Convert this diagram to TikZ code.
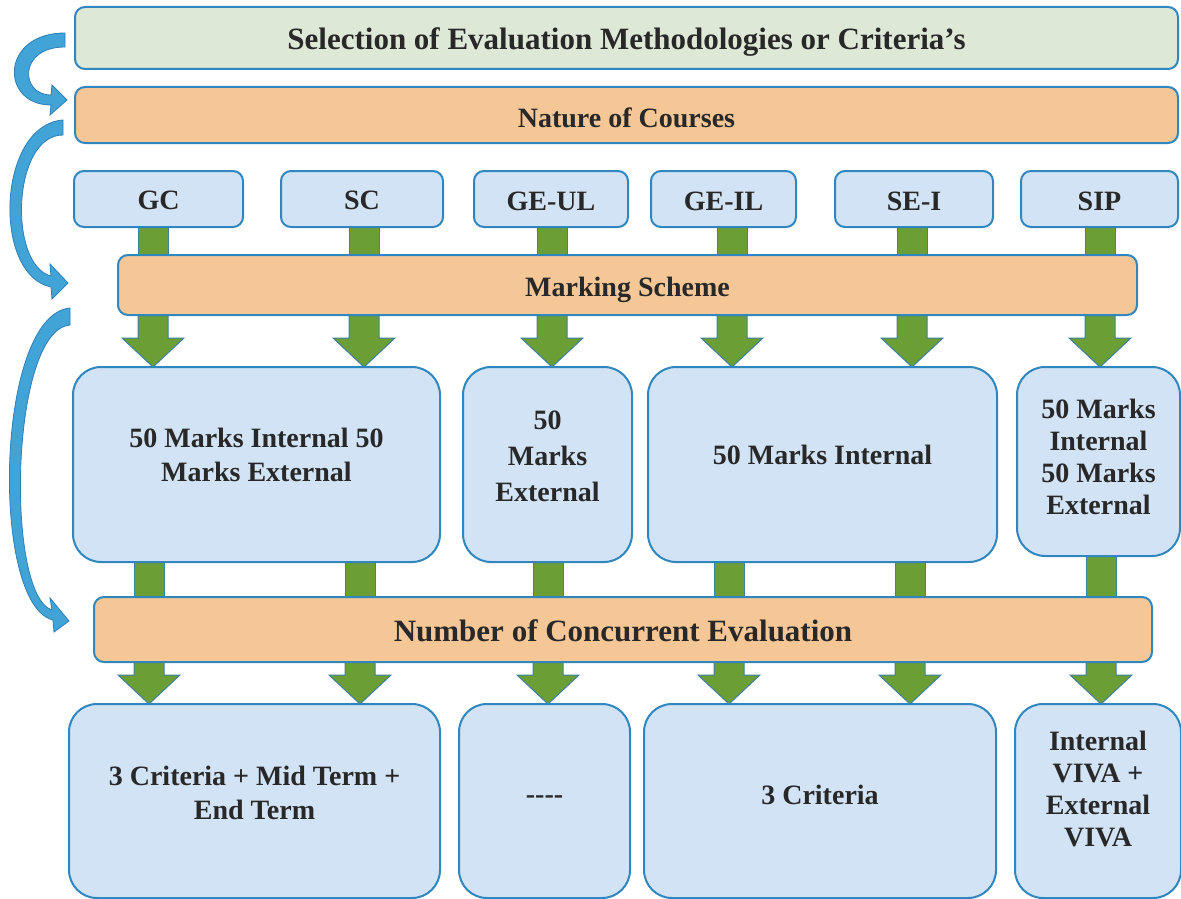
\documentclass[tikz,border=0pt]{standalone}
\usepackage{fontspec}
\setmainfont{Liberation Serif}
\usetikzlibrary{calc}
\pgfdeclarelayer{background}
\pgfsetlayers{background,main}
\definecolor{boxblue}{RGB}{209,227,245}
\definecolor{boxline}{RGB}{48,134,190}
\definecolor{boxorange}{RGB}{246,199,150}
\definecolor{boxsage}{RGB}{222,232,214}
\definecolor{agreen}{RGB}{108,158,54}
\definecolor{agreenline}{RGB}{62,128,160}
\definecolor{cblue}{RGB}{66,163,214}
\definecolor{cblueline}{RGB}{44,127,184}
\definecolor{txt}{RGB}{40,40,40}
\tikzset{
  box/.style={draw=boxline, line width=2pt, inner sep=0pt, outer sep=0pt},
  topbox/.style={box, fill=boxsage, rounded corners=10pt},
  barbox/.style={box, fill=boxorange, rounded corners=10pt},
  smallbox/.style={box, fill=boxblue, rounded corners=10pt},
  bigbox/.style={box, fill=boxblue, rounded corners=28pt},
  lab/.style={text=txt, inner sep=0pt, align=center, anchor=center,
    font=\fontsize{28}{34}\selectfont\bfseries},
  labtight/.style={lab, font=\fontsize{28}{32}\selectfont\bfseries},
  labbig/.style={lab, font=\fontsize{31}{36}\selectfont\bfseries},
  garrowstyle/.style={fill=agreen, draw=agreenline, line width=1pt},
  curvarrow/.style={fill=cblue, draw=cblueline, line width=0.8pt},
}
\newcommand\garrow[2]{%
  \filldraw[garrowstyle] let \p1=#1, \p2=#2 in
    (\x1-15pt,\y1) -- (\x1-15pt,\y2+29pt) -- (\x1-31pt,\y2+29pt) -- (\x1,\y2)
    -- (\x1+31pt,\y2+29pt) -- (\x1+15pt,\y2+29pt) -- (\x1+15pt,\y1) -- cycle;}
\newcommand\gstem[2]{%
  \filldraw[garrowstyle] let \p1=#1, \p2=#2 in
    (\x1-15pt,\y1) rectangle (\x1+15pt,\y2);}
\begin{document}
\begin{tikzpicture}[x=1pt,y=-1pt]
\useasboundingbox (0,0) rectangle (1181,899);
% rows
\node[topbox, minimum width=1103pt, minimum height=62pt,
  label={[labbig, name=selt, yshift=-4pt]center:Selection of Evaluation Methodologies or Criteria's}] (sel) at (626.5,38) {};
\node[barbox, minimum width=1103pt, minimum height=56pt,
  label={[lab, name=noct, yshift=-3pt]center:Nature of Courses}] (noc) at (626.5,115) {};
\node[smallbox, minimum width=169pt, minimum height=56pt,
  label={[lab, name=gct, yshift=-1pt]center:GC}] (gc) at (158.5,199) {};
\node[smallbox, minimum width=162pt, minimum height=56pt,
  label={[lab, name=sct, yshift=-1pt]center:SC}] (sc) at (362,199) {};
\node[smallbox, minimum width=154pt, minimum height=56pt,
  label={[lab, name=geult, yshift=-2pt]center:GE-UL}] (geul) at (551,199) {};
\node[smallbox, minimum width=145pt, minimum height=56pt,
  label={[lab, name=geilt, yshift=-2pt]center:GE-IL}] (geil) at (723.5,199) {};
\node[smallbox, minimum width=158pt, minimum height=56pt,
  label={[lab, name=seit, yshift=-2pt]center:SE-I}] (sei) at (914,199) {};
\node[smallbox, minimum width=157pt, minimum height=56pt,
  label={[lab, name=sipt, yshift=-2pt]center:SIP}] (sip) at (1099.5,199) {};
\node[barbox, minimum width=1019pt, minimum height=60pt,
  label={[lab, name=mst, yshift=-5pt]center:Marking Scheme}] (ms) at (627.5,285) {};
\node[bigbox, minimum width=367pt, minimum height=195pt,
  label={[lab, name=m1t, yshift=10pt]center:{50 Marks Internal 50\\Marks External}}] (m1) at (256.5,464.5) {};
\node[bigbox, minimum width=169pt, minimum height=195pt,
  label={[lab, name=m2t, font=\fontsize{28}{36}\selectfont\bfseries, yshift=8pt]center:{50\\Marks\\External}}] (m2) at (547.5,464.5) {};
\node[bigbox, minimum width=349pt, minimum height=195pt,
  label={[lab, name=m3t, yshift=10pt]center:50 Marks Internal}] (m3) at (822.5,464.5) {};
\node[bigbox, minimum width=163pt, minimum height=189pt,
  label={[labtight, name=m4t, yshift=5pt]center:{50 Marks\\Internal\\50 Marks\\External}}] (m4) at (1098.5,461.5) {};
\node[barbox, minimum width=1058pt, minimum height=65pt,
  label={[labbig, name=ncet, yshift=-1pt]center:Number of Concurrent Evaluation}] (nce) at (623,629.5) {};
\node[bigbox, minimum width=371pt, minimum height=194pt,
  label={[lab, name=b1t, yshift=8pt]center:{3 Criteria + Mid Term +\\End Term}}] (b1) at (254.5,801) {};
\node[bigbox, minimum width=171pt, minimum height=194pt,
  label={[lab, name=b2t, yshift=1pt]center:{-{}-{}-{}-}}] (b2) at (544.5,801) {};
\node[bigbox, minimum width=352pt, minimum height=194pt,
  label={[lab, name=b3t, yshift=6pt]center:3 Criteria}] (b3) at (820,801) {};
\node[bigbox, minimum width=166pt, minimum height=194pt,
  label={[labtight, name=b4t, yshift=12pt]center:{Internal\\VIVA +\\External\\VIVA}}] (b4) at (1098,801) {};
% column positions
\coordinate (ca) at (153,0);
\coordinate (cb) at (364,0);
\coordinate (cc) at (552,0);
\coordinate (cd) at (732,0);
\coordinate (ce) at (912,0);
\coordinate (cf) at (1100,0);
\coordinate (la) at (149,0);
\coordinate (lb) at (360,0);
\coordinate (lc) at (548,0);
\coordinate (ld) at (729,0);
\coordinate (le) at (910,0);
\coordinate (lf) at (1101,0);
\begin{pgfonlayer}{background}
% stems course -> marking scheme
\gstem{(ca |- gc.south)}{(ca |- ms.north)}
\gstem{(cb |- sc.south)}{(cb |- ms.north)}
\gstem{(cc |- geul.south)}{(cc |- ms.north)}
\gstem{(cd |- geil.south)}{(cd |- ms.north)}
\gstem{(ce |- sei.south)}{(ce |- ms.north)}
\gstem{(cf |- sip.south)}{(cf |- ms.north)}
% arrows marking scheme -> middle row
\garrow{(ca |- ms.south)}{(ca |- m1.north)}
\garrow{(cb |- ms.south)}{(cb |- m1.north)}
\garrow{(cc |- ms.south)}{(cc |- m2.north)}
\garrow{(cd |- ms.south)}{(cd |- m3.north)}
\garrow{(ce |- ms.south)}{(ce |- m3.north)}
\garrow{(cf |- ms.south)}{(cf |- m4.north)}
% stems middle row -> number
\gstem{(la |- m1.south)}{(la |- nce.north)}
\gstem{(lb |- m1.south)}{(lb |- nce.north)}
\gstem{(lc |- m2.south)}{(lc |- nce.north)}
\gstem{(ld |- m3.south)}{(ld |- nce.north)}
\gstem{(le |- m3.south)}{(le |- nce.north)}
\gstem{(lf |- m4.south)}{(lf |- nce.north)}
% arrows number -> bottom row
\garrow{(la |- nce.south)}{(la |- b1.north)}
\garrow{(lb |- nce.south)}{(lb |- b1.north)}
\garrow{(lc |- nce.south)}{(lc |- b2.north)}
\garrow{(ld |- nce.south)}{(ld |- b3.north)}
\garrow{(le |- nce.south)}{(le |- b3.north)}
\garrow{(lf |- nce.south)}{(lf |- b4.north)}
\end{pgfonlayer}
% curved blue arrows on the left
\filldraw[curvarrow] (65,33) .. controls (0,33) and (0,105) .. (51,105)
  -- (50,115) -- (67,100) -- (52,85) -- (51,95)
  .. controls (20,95) and (18,47) .. (65,47) -- cycle;
\filldraw[curvarrow] (63,120) .. controls (-3,125) and (-8,275) .. (51,287)
  -- (52,299) -- (68,283) -- (50,264) -- (51,276)
  .. controls (8,265) and (12,135) .. (63,135) -- cycle;
\filldraw[curvarrow] (70,308) .. controls (-5,315) and (-10,605) .. (53,620)
  -- (54,632) -- (69,621) -- (50,598) -- (52,610)
  .. controls (5,595) and (10,330) .. (70,325) -- cycle;
\end{tikzpicture}
\end{document}
